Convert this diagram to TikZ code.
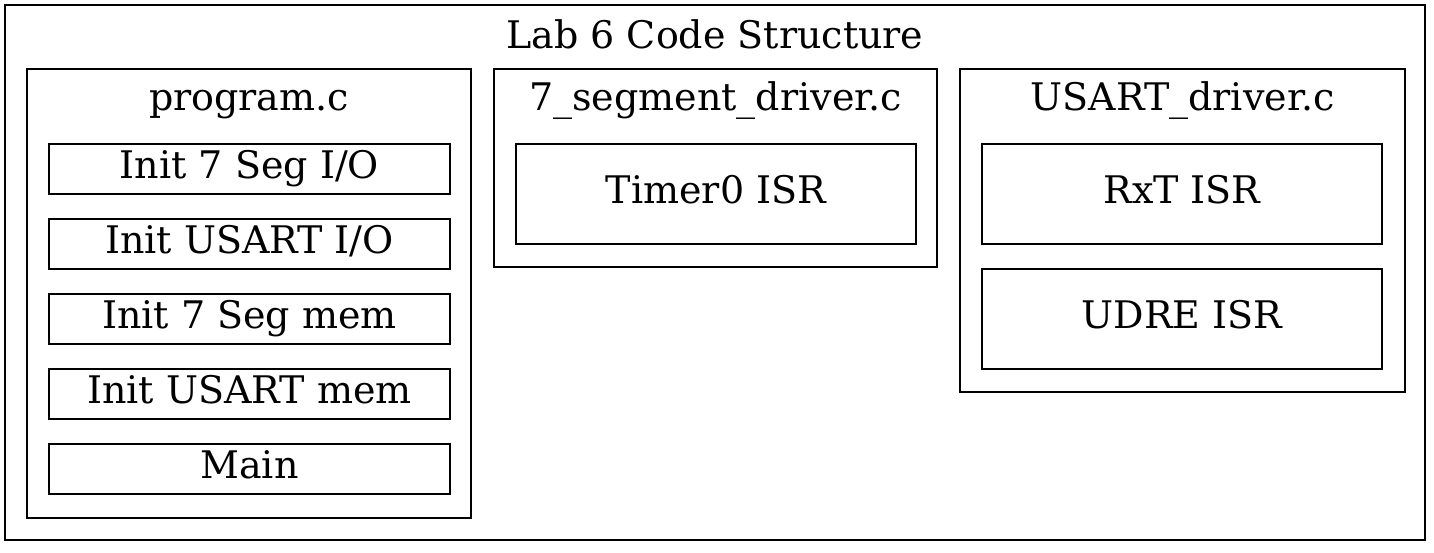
\documentclass[tikz,border=0pt]{standalone}
\usepackage{fontspec}
\setmainfont{DejaVu Serif}
\usepackage{tikz}
\usetikzlibrary{positioning}

\begin{document}
\begin{tikzpicture}[x=1pt,y=-1pt,
    every node/.style={font=\fontsize{38}{40}\selectfont,inner sep=0pt},
    frame/.style={draw,line width=2pt,rectangle},
    fnbox/.style={frame,text height=27pt,text depth=8pt},
    caption/.style={anchor=base}]
    \useasboundingbox (0,0) rectangle (1434,552);

    % outer cluster and its title
    \node[frame,minimum width=1420pt,minimum height=535pt] (lab) at (715,272.5) {};
    \node[caption] (labtitle) at (715,48) {Lab 6 Code Structure};

    % one cluster per source file
    \node[frame,minimum width=444pt,minimum height=449pt] (program) at (249,293.5) {};
    \node[caption] (programtitle) at (249,110) {program.c};
    \node[frame,minimum width=443pt,minimum height=198pt] (segdrv) at (715.5,168) {};
    \node[caption] (segdrvtitle) at (715.5,110) {7\_segment\_driver.c};
    \node[frame,minimum width=445pt,minimum height=323pt] (usartdrv) at (1182.5,230.5) {};
    \node[caption] (usartdrvtitle) at (1182.5,110) {USART\_driver.c};

    % functions in program.c
    \foreach \fn [count=\i] in {Init 7 Seg I/O,Init USART I/O,Init 7 Seg mem,Init USART mem,Main}
      \node[fnbox,minimum width=401pt,minimum height=50pt] (prog\i) at (249.5,{169+75*(\i-1)}) {\fn};

    % interrupt routines
    \node[fnbox,minimum width=400pt,minimum height=100pt] (timer) at (716,194) {Timer0 ISR};
    \node[fnbox,minimum width=400pt,minimum height=100pt] (rxt) at (1182,194) {RxT ISR};
    \node[fnbox,minimum width=400pt,minimum height=100pt,below=23pt of rxt] (udre) {UDRE ISR};
\end{tikzpicture}
\end{document}
